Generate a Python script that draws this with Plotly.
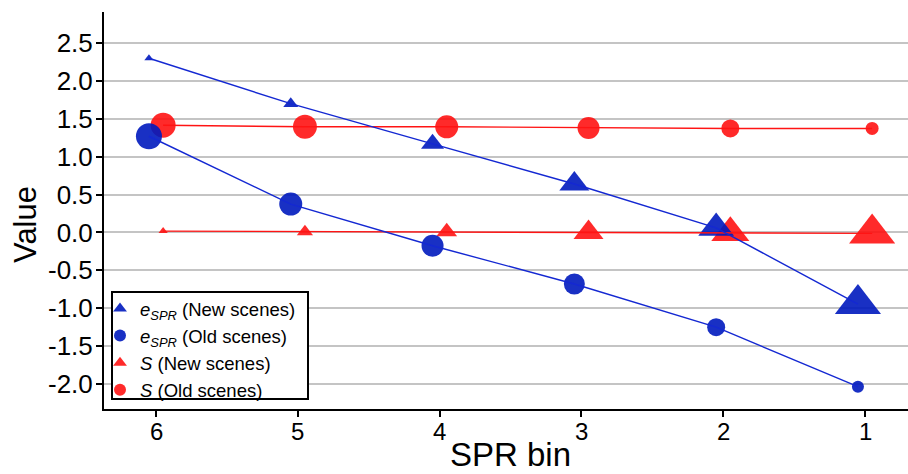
import plotly.graph_objects as go

# ---- data ----
bins = [6, 5, 4, 3, 2, 1]
bin_labels = ["6", "5", "4", "3", "2", "1"]
e_new = [2.30, 1.70, 1.17, 0.64, 0.06, -0.945]
e_old = [1.27, 0.375, -0.175, -0.68, -1.25, -2.035]
s_new = [0.018, 0.01, 0.01, 0.0, -0.004, -0.012]
s_old = [1.415, 1.395, 1.395, 1.38, 1.373, 1.373]
size_e_new = [8, 13, 20, 26, 31, 40]
size_e_old = [26, 23, 22, 21, 18, 12]
size_s_new = [8, 14, 18, 26, 33, 40]
size_s_old = [25, 24, 23, 22, 18, 13]
y_ticks = [-2.0, -1.5, -1.0, -0.5, 0.0, 0.5, 1.0, 1.5, 2.0, 2.5]

BLUE = "rgba(0,25,190,0.9)"
BLUE_L = "rgb(20,40,210)"
RED = "rgba(255,10,10,0.87)"
RED_L = "rgb(255,20,20)"
dodge = 0.05
x_blue = [b + dodge for b in bins]
x_red = [b - dodge for b in bins]

# pixel geometry of the plot area
L, R, T, B = 104, 908, 12, 409
W, H = 908, 474
def px_x(p):
    return (p - L) / (R - L)
def px_y(p):
    return (B - p) / (B - T)

fig = go.Figure()
fig.add_trace(go.Scatter(x=x_red, y=s_old, mode="markers", name="<i>S</i> (Old scenes)",
                         marker=dict(symbol="circle", size=size_s_old, color=RED, opacity=1, line=dict(width=0))))
fig.add_trace(go.Scatter(x=x_red, y=s_new, mode="markers", name="<i>S</i> (New scenes)",
                         marker=dict(symbol="triangle-up", size=size_s_new, color=RED, opacity=1, line=dict(width=0))))
fig.add_trace(go.Scatter(x=x_blue, y=e_old, mode="markers", name="<i>e</i><sub><i>SPR</i></sub> (Old scenes)",
                         marker=dict(symbol="circle", size=size_e_old, color=BLUE, opacity=1, line=dict(width=0))))
fig.add_trace(go.Scatter(x=x_blue, y=e_new, mode="markers", name="<i>e</i><sub><i>SPR</i></sub> (New scenes)",
                         marker=dict(symbol="triangle-up", size=size_e_new, color=BLUE, opacity=1, line=dict(width=0))))
for xs, ys, col in [(x_red, s_old, RED_L), (x_red, s_new, RED_L), (x_blue, e_old, BLUE_L), (x_blue, e_new, BLUE_L)]:
    fig.add_trace(go.Scatter(x=xs, y=ys, mode="lines", line=dict(color=col, width=1.4),
                             showlegend=False, hoverinfo="skip"))

# legend frame
fig.add_shape(type="rect", xref="paper", yref="paper",
              x0=px_x(112), x1=px_x(308), y0=px_y(399), y1=px_y(292),
              line=dict(color="black", width=2), fillcolor="white", layer="above")

# x tick labels (placed on the x axis's own scale)
for b, lab in zip(bins, bin_labels):
    fig.add_annotation(text=lab, xref="x", yref="paper", x=b, y=px_y(431),
                       xanchor="center", yanchor="middle", showarrow=False,
                       font=dict(size=24, color="black"), borderpad=0)

# axis titles
fig.add_annotation(text="SPR bin", xref="paper", yref="paper", x=px_x(510), y=px_y(474),
                   xanchor="center", yanchor="bottom", showarrow=False,
                   font=dict(size=33, color="black"), borderpad=0)
fig.add_annotation(text="Value", xref="paper", yref="paper", x=px_x(26), y=px_y(225),
                   xanchor="center", yanchor="middle", showarrow=False, textangle=-90,
                   font=dict(size=31, color="black"))

fig.update_layout(
    width=W, height=H,
    margin=dict(l=L, r=W - R, t=T, b=H - B, pad=0),
    plot_bgcolor="white", paper_bgcolor="white",
    font=dict(family="Liberation Sans, Arial, sans-serif", color="black"),
    showlegend=True,
    legend=dict(x=px_x(100), y=px_y(290), xanchor="left", yanchor="top",
                bgcolor="rgba(0,0,0,0)", borderwidth=0,
                font=dict(size=18.5, family="Liberation Sans, Arial, sans-serif"),
                traceorder="reversed", itemsizing="constant", itemwidth=30,
                tracegroupgap=0),
)
fig.update_xaxes(
    range=[6.367, 0.697], tickvals=bins, showticklabels=False,
    showgrid=False, zeroline=False, automargin=False,
    showline=True, linecolor="black", linewidth=2,
    ticks="outside", ticklen=6, tickwidth=2, tickcolor="black",
)
fig.update_yaxes(
    range=[-2.33, 2.91], tickvals=y_ticks, ticktext=[f"{v:.1f}" for v in y_ticks],
    showgrid=True, gridcolor="#c4c4c4", gridwidth=1.5, zeroline=False, automargin=False,
    showline=True, linecolor="black", linewidth=2,
    ticks="outside", ticklen=6, tickwidth=2, tickcolor="black",
    tickfont=dict(size=26), ticklabelstandoff=-2,
)

fig.write_html("out.html")
